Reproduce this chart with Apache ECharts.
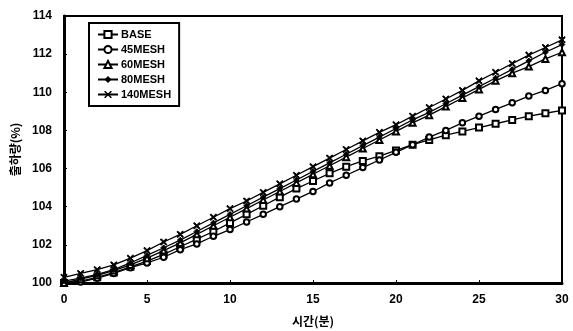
<!DOCTYPE html>
<html>
<head>
<meta charset="utf-8">
<script src="https://cdn.jsdelivr.net/npm/echarts@6/dist/echarts.min.js"></script>
<style>
  html, body { margin: 0; padding: 0; background: #fff; }
  #chart { width: 573px; height: 331px; }
</style>
</head>
<body>
<div id="chart"></div>
<script>
// 시간(분)
var minutes = [];
for (var i = 0; i <= 30; i++) minutes.push(i);

var xTicks = [0, 5, 10, 15, 20, 25, 30];
var yTicks = [100, 102, 104, 106, 108, 110, 112, 114];

var seriesNames = ['BASE', '45MESH', '60MESH', '80MESH', '140MESH'];

// 출하량(%)
var base = [100.0, 100.1, 100.3, 100.55, 100.85, 101.15, 101.5, 101.9, 102.3, 102.7,
    103.15, 103.6, 104.05, 104.5, 104.95, 105.35, 105.75, 106.1, 106.4, 106.65,
    106.95, 107.25, 107.5, 107.75, 107.95, 108.15, 108.35, 108.55, 108.75, 108.9, 109.05];
var mesh45 = [100.0, 100.05, 100.25, 100.5, 100.8, 101.05, 101.35, 101.75, 102.05, 102.45,
    102.8, 103.2, 103.6, 104.0, 104.4, 104.8, 105.25, 105.65, 106.05, 106.45,
    106.85, 107.25, 107.65, 108.0, 108.4, 108.75, 109.1, 109.45, 109.8, 110.1, 110.45];
var mesh60 = [100.0, 100.2, 100.4, 100.65, 100.95, 101.3, 101.7, 102.1, 102.55, 103.0,
    103.45, 103.9, 104.35, 104.8, 105.25, 105.7, 106.15, 106.6, 107.05, 107.5,
    107.95, 108.4, 108.8, 109.25, 109.7, 110.15, 110.6, 111.0, 111.35, 111.75, 112.1];
var mesh80 = [100.1, 100.25, 100.45, 100.7, 101.05, 101.45, 101.85, 102.25, 102.7, 103.15,
    103.6, 104.05, 104.5, 104.95, 105.4, 105.85, 106.3, 106.75, 107.2, 107.65,
    108.1, 108.55, 108.95, 109.4, 109.85, 110.3, 110.75, 111.2, 111.65, 112.1, 112.5];
var mesh140 = [100.3, 100.5, 100.7, 100.95, 101.3, 101.7, 102.15, 102.55, 103.0, 103.45,
    103.9, 104.3, 104.75, 105.2, 105.65, 106.1, 106.55, 107.0, 107.45, 107.9,
    108.3, 108.75, 109.2, 109.65, 110.1, 110.6, 111.05, 111.5, 111.95, 112.35, 112.75];

var crossPath = 'path://M0,0 L3,0 L10,7 L17,0 L20,0 L20,3 L13,10 L20,17 L20,20 L17,20 L10,13 L3,20 L0,20 L0,17 L7,10 L0,3 Z';

function pairs(vals) {
    return minutes.map(function (t, i) { return [t, vals[i]]; });
}

function makeSeries(name, vals, symbol, size, filled) {
    return {
        name: name,
        type: 'line',
        data: pairs(vals),
        symbol: symbol,
        symbolSize: size,
        showAllSymbol: true,
        lineStyle: { color: '#000', width: 1.3 },
        itemStyle: filled
            ? { color: '#000', borderColor: '#000' }
            : { color: '#000', borderColor: '#000', borderWidth: 1 },
        emphasis: { disabled: true },
        animation: false
    };
}

var fontBold = { fontFamily: 'Liberation Sans', fontWeight: 'bold', fontSize: 12, color: '#000' };

var chart = echarts.init(document.getElementById('chart'));

var option = {
    backgroundColor: '#fff',
    animation: false,
    grid: {
        left: 64, right: 11, top: 16, bottom: 48,
        outerBoundsMode: 'none',
        show: true, borderColor: '#000', borderWidth: 2
    },
    legend: {
        data: seriesNames,
        orient: 'vertical',
        left: 89, top: 23,
        padding: [6, 8, 6, 8],
        itemGap: 4,
        itemWidth: 20,
        itemHeight: 9,
        borderColor: '#000',
        borderWidth: 2,
        textStyle: { fontFamily: 'Liberation Sans', fontWeight: 'bold', fontSize: 11, color: '#000', padding: [0, 0, 0, -2] }
    },
    xAxis: {
        type: 'value',
        min: 0, max: 30, interval: 5,
        name: '시간(분)',
        nameLocation: 'middle',
        nameGap: 32,
        nameTextStyle: { fontFamily: 'Noto Sans CJK KR', fontWeight: 'bold', fontSize: 12, color: '#000' },
        axisLine: { lineStyle: { color: '#000', width: 3 } },
        axisTick: { inside: true, length: 3, lineStyle: { color: '#000' } },
        axisLabel: Object.assign({ margin: 11 }, fontBold),
        splitLine: { show: false }
    },
    yAxis: {
        type: 'value',
        min: 100, max: 114, interval: 2,
        name: '출하량(%)',
        nameLocation: 'middle',
        nameGap: 43,
        nameRotate: 90,
        nameTextStyle: { fontFamily: 'Noto Sans CJK KR', fontWeight: 'bold', fontSize: 12, color: '#000' },
        axisLine: { lineStyle: { color: '#000', width: 3 } },
        axisTick: { inside: true, length: 3, lineStyle: { color: '#000' } },
        axisLabel: Object.assign({ margin: 12 }, fontBold),
        splitLine: { show: false }
    },
    series: [
        makeSeries('BASE', base, 'emptyRect', 6, false),
        makeSeries('45MESH', mesh45, 'emptyCircle', 5.5, false),
        makeSeries('60MESH', mesh60, 'emptyTriangle', 6, false),
        makeSeries('80MESH', mesh80, 'diamond', 5.5, true),
        makeSeries('140MESH', mesh140, crossPath, 6, true)
    ]
};

chart.setOption(option);
</script>
</body>
</html>
